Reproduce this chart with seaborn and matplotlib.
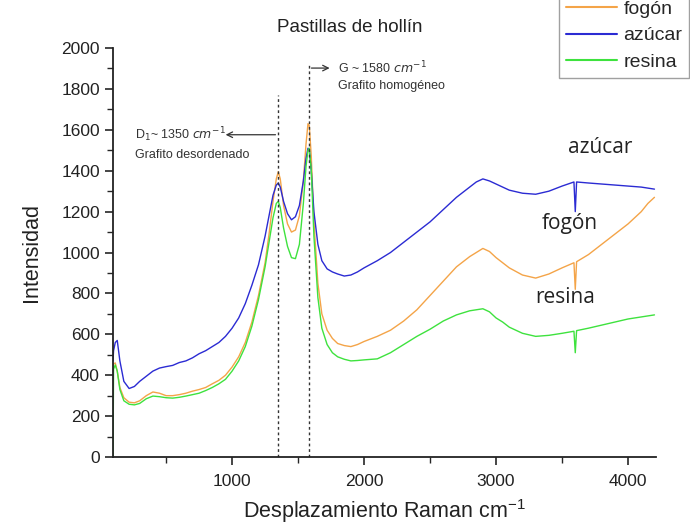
import matplotlib
matplotlib.use("Agg")
import matplotlib.pyplot as plt
from matplotlib.ticker import MultipleLocator
import seaborn as sns
import pandas as pd

# ---------------- data ----------------
raman_shift = [98, 102, 115, 130, 150, 180, 220, 260, 300, 350, 400, 450, 500, 550,
               600, 650, 700, 750, 800, 850, 900, 950, 1000, 1050, 1100, 1150,
               1200, 1250, 1280, 1310, 1335, 1350, 1365, 1390, 1420, 1450, 1480,
               1510, 1540, 1560, 1575, 1585, 1600, 1620, 1650, 1680, 1720, 1760,
               1800, 1850, 1900, 1950, 2000, 2100, 2200, 2300, 2400, 2500, 2600,
               2700, 2800, 2850, 2900, 2950, 3000, 3050, 3100, 3200, 3300, 3400,
               3500, 3590, 3600, 3610, 3700, 3800, 3900, 4000, 4100, 4150, 4200]

azucar = [470, 520, 560, 570, 470, 370, 335, 345, 370, 395, 420, 435, 442, 448,
          462, 470, 485, 505, 520, 540, 560, 590, 630, 680, 750, 840,
          940, 1080, 1180, 1280, 1330, 1340, 1320, 1250, 1190, 1160, 1175,
          1230, 1350, 1460, 1510, 1500, 1400, 1200, 1040, 960, 920, 905,
          895, 885, 890, 905, 925, 960, 1000, 1050, 1100, 1150, 1210,
          1270, 1320, 1345, 1360, 1350, 1335, 1320, 1305, 1290, 1285, 1300,
          1325, 1345, 1200, 1345, 1340, 1335, 1330, 1325, 1320, 1315, 1310]

fogon = [440, 455, 460, 420, 340, 290, 268, 265, 275, 300, 318, 312, 300, 300,
         305, 312, 322, 330, 340, 358, 375, 400, 440, 490, 560, 660,
         790, 950, 1090, 1250, 1360, 1395, 1360, 1230, 1140, 1100, 1110,
         1180, 1350, 1530, 1630, 1620, 1470, 1150, 850, 700, 620, 580,
         555, 545, 540, 550, 565, 590, 620, 665, 720, 790, 860,
         930, 980, 1000, 1020, 1005, 975, 950, 925, 890, 875, 895,
         925, 950, 820, 955, 990, 1040, 1090, 1140, 1200, 1240, 1270]

resina = [0, 430, 450, 420, 330, 275, 258, 255, 262, 285, 298, 295, 290, 288,
          292, 298, 305, 312, 325, 340, 358, 380, 420, 470, 540, 640,
          770, 930, 1050, 1170, 1240, 1250, 1220, 1120, 1030, 975, 970,
          1040, 1240, 1420, 1500, 1510, 1400, 1080, 780, 630, 550, 510,
          490, 478, 470, 472, 475, 480, 510, 550, 590, 625, 665,
          695, 715, 720, 725, 710, 680, 660, 635, 605, 590, 595,
          605, 615, 510, 618, 630, 645, 660, 675, 685, 690, 695]

series_names = ["fogón", "azúcar", "resina"]
series_colors = ["#F4A448", "#2B2BD3", "#3EE23E"]

peak_positions = [1350, 1580]
peak_line_tops = [1770, 1915]
curve_labels = ["azúcar", "fogón", "resina"]
curve_label_x = [3790, 3560, 3520]
curve_label_y = [1515, 1140, 780]

y_ticks = [0, 200, 400, 600, 800, 1000, 1200, 1400, 1600, 1800, 2000]
x_ticks = [1000, 2000, 3000, 4000]

# ---------------- build long-form table ----------------
df = pd.concat([
    pd.DataFrame({"x": raman_shift, "y": fogon, "serie": "fogón"}),
    pd.DataFrame({"x": raman_shift, "y": azucar, "serie": "azúcar"}),
    pd.DataFrame({"x": raman_shift, "y": resina, "serie": "resina"}),
], ignore_index=True)

sns.set_style("ticks")
plt.rcParams["font.family"] = ["Liberation Sans", "DejaVu Sans"]

fig = plt.figure(figsize=(6.9, 5.25), dpi=100)
ax = fig.add_axes([0.1638, 0.1295, 0.787, 0.779])

sns.lineplot(data=df, x="x", y="y", hue="serie", hue_order=series_names,
             palette=series_colors, linewidth=1.0, ax=ax, sort=False,
             estimator=None, legend=True)

ax.set_xlim(98, 4212)
ax.set_ylim(0, 2000)
ax.set_xticks(x_ticks)
ax.set_yticks(y_ticks)
ax.xaxis.set_minor_locator(MultipleLocator(500))
ax.yaxis.set_minor_locator(MultipleLocator(100))
ax.tick_params(which="major", direction="out", length=6, width=1.2, labelsize=12.5,
               labelcolor="#222222")
ax.tick_params(axis="x", which="major", pad=6)
ax.tick_params(which="minor", direction="out", length=4, width=1.0)
for s in ["top", "right"]:
    ax.spines[s].set_visible(False)
for s in ["left", "bottom"]:
    ax.spines[s].set_linewidth(1.3)
    ax.spines[s].set_color("#222222")

ax.set_xlabel("Desplazamiento Raman cm$^{\\mathregular{-1}}$", fontsize=15.5, labelpad=6,
              color="#222222")
ax.set_ylabel("Intensidad", fontsize=15.5, labelpad=14, color="#222222")

# dotted peak lines
for px, top in zip(peak_positions, peak_line_tops):
    ax.plot([px, px], [0, top], linestyle=(0, (2, 2)), color="#333333", linewidth=1.0)

# annotations
ax.annotate("", xy=(930, 1576), xytext=(peak_positions[0], 1576),
            arrowprops=dict(arrowstyle="->", color="#333333", lw=0.9))
ax.text(265, 1576, "D$_1$~ 1350 $cm^{-1}$", fontsize=9, va="center", ha="left", color="#333333")
ax.text(265, 1478, "Grafito desordenado", fontsize=9, va="center", ha="left", color="#333333")
ax.annotate("", xy=(1760, 1902), xytext=(peak_positions[1], 1902),
            arrowprops=dict(arrowstyle="->", color="#333333", lw=0.9))
ax.text(1800, 1902, "G ~ 1580 $cm^{-1}$", fontsize=9, va="center", ha="left", color="#333333")
ax.text(1800, 1815, "Grafito homogéneo", fontsize=9, va="center", ha="left", color="#333333")

for lab, lx, ly in zip(curve_labels, curve_label_x, curve_label_y):
    ax.text(lx, ly, lab, fontsize=15, ha="center", va="center",
            family=["Open Sans", "DejaVu Sans"], color="#222222")

# title
fig.text(0.507, 0.947, "Pastillas de hollín", fontsize=13.5, ha="center", va="center",
         color="#222222")

# legend
leg = ax.get_legend()
handles = leg.legend_handles
leg.remove()
fig.legend(handles, series_names, loc="upper right", bbox_to_anchor=(0.999, 1.012),
           fontsize=14, handlelength=2.6, labelspacing=0.45, borderpad=0.35,
           handletextpad=0.35, borderaxespad=0.0, frameon=True, fancybox=False,
           edgecolor="#888888")
for h in fig.legends[0].legend_handles:
    h.set_linewidth(1.5)

fig.savefig("out.png", dpi=100)
